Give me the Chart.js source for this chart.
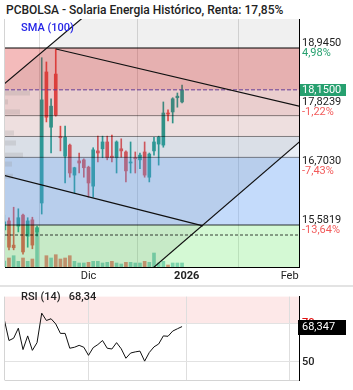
<!DOCTYPE html>
<html>
<head>
<meta charset="utf-8">
<script src="https://cdn.jsdelivr.net/npm/chart.js@4.4.1/dist/chart.umd.min.js"></script>
<style>
  html, body { margin: 0; padding: 0; background: #fff; }
  #wrap { position: relative; width: 353px; height: 390px; overflow: hidden; font-family: Roboto, sans-serif; }
  #main { position: absolute; left: 0; top: 0; }
  #rsi { position: absolute; left: 0; top: 287px; }
  #title { position: absolute; left: 0; top: 0; width: 299px; height: 19px; padding: 2px 0 0 6px; box-sizing: border-box;
           font: 500 12px Roboto; line-height: 17px; color: #222; background: #fff; white-space: nowrap; z-index: 2; }
  #sma { position: absolute; left: 21px; top: 21px; font: 500 11px Roboto; line-height: 13px; color: #2323e6; z-index: 2; }
  #sep { position: absolute; left: 0; top: 285px; width: 353px; height: 2px; background: #e3e3e3; }
  #rsiLabel { position: absolute; left: 21px; top: 290px; font: 500 11px Roboto; line-height: 13px; color: #222; z-index: 2; white-space: pre; }
</style>
</head>
<body>
<div id="wrap">
  <canvas id="main" width="353" height="285"></canvas>
  <div id="sep"></div>
  <canvas id="rsi" width="353" height="103"></canvas>
  <div id="title">PCBOLSA - Solaria Energia Histórico, Renta: 17,85%</div>
  <div id="sma">SMA (100)</div>
  <div id="rsiLabel">RSI (14)   68,34</div>
</div>
<script>
(function () {
  'use strict';

  // daily sessions, index 0 = first visible session (early Nov 2025)
  const OPEN  = [15.49, 15.66, 15.20, 15.56, 15.77, 15.37, 15.68, 15.45, 16.00, 18.49, 17.44, 18.45, 17.25, 16.89, 17.10, 16.53, 16.80, 16.82, 16.68, 16.32,
                 16.99, 17.03, 17.16, 16.89, 16.86, 17.03, 16.97, 16.76, 16.86, 16.82, 16.97, 16.49, 16.99, 17.12, 17.10, 17.71, 17.73, 18.00, 17.92];
  const HIGH  = [15.77, 15.72, 15.92, 15.89, 15.79, 15.72, 15.73, 15.56, 18.76, 18.68, 17.98, 18.93, 17.46, 17.46, 17.12, 16.68, 16.95, 16.84, 16.70, 17.05,
                 17.27, 17.27, 17.27, 17.29, 17.18, 17.22, 16.99, 17.16, 16.97, 16.95, 17.16, 16.95, 17.25, 17.27, 17.92, 17.77, 18.00, 18.09, 18.24];
  const LOW   = [15.30, 15.11, 15.11, 15.45, 15.03, 15.16, 15.13, 15.37, 15.79, 17.54, 16.95, 17.65, 16.99, 16.38, 16.49, 16.19, 16.57, 16.49, 16.11, 16.11,
                 16.78, 16.86, 16.82, 16.78, 16.57, 16.87, 16.40, 16.57, 16.57, 16.65, 16.49, 16.40, 16.91, 16.72, 17.06, 17.56, 17.52, 17.82, 17.90];
  const CLOSE = [15.64, 15.16, 15.15, 15.72, 15.07, 15.66, 15.20, 15.53, 17.96, 17.63, 17.84, 17.67, 17.24, 17.25, 16.57, 16.67, 16.76, 16.67, 16.38, 17.01,
                 16.95, 17.16, 16.86, 16.86, 17.16, 16.99, 16.61, 16.78, 16.84, 16.91, 16.53, 16.93, 17.16, 17.25, 17.71, 17.69, 17.98, 18.03, 18.15];
  const VOLUME = [60, 90, 113, 57, 90, 57, 80, 390, null, 113, 90, 123, 80, 90, 113, 57, 40, 40, 47, 57,
                  57, 40, 47, 57, 40, 30, 47, 47, 40, 40, 57, 47, 140, 40, 57, 20, 40, 40, 40];
  const VOL_UP = [1, 0, 1, 1, 0, 1, 0, 1, 1, 0, 1, 0, 0, 0, 0, 1, 1, 1, 0, 1,
                  1, 1, 1, 0, 1, 1, 0, 1, 1, 1, 0, 1, 1, 1, 1, 0, 1, 1, 1];
  const RSI = [71.9, 61.1, 62.3, 67.5, 56.4, 63.5, 56.0, 60.0, 75.3, 71.5, 72.4, 69.7, 64.8, 64.8, 57.1, 57.6, 58.6, 57.6, 53.4, 57.4,
               59.0, 61.1, 57.1, 56.7, 60.0, 56.8, 51.9, 54.6, 55.2, 55.6, 50.4, 54.9, 57.8, 59.3, 63.5, 63.3, 66.0, 67.2, 68.34];

  const X_TICKS = [18, 39, 61];
  const X_TICK_LABELS = ['Dic', '2026', 'Feb'];
  const X_MIN = 0.15, X_MAX = 63;
  const PRICE_MIN = 14.784, PRICE_MAX = 19.496;
  const VOL_AXIS_MAX = 2480;
  const RSI_MIN = 40.4, RSI_MAX = 83.9;
  const RSI_TICKS = [50, 70];

  const FIB_LEVELS = [18.945, 18.151, 17.660, 17.264, 16.867, 15.582];
  const LEVEL_VALUES = [18.945, 17.8239, 16.703, 15.5819];
  const LEVEL_PCT = [4.98, -1.22, -7.43, -13.64];
  const LAST_PRICE = 18.15;
  const SUPPORT_DOTTED = 15.392;
  const RSI_LAST = 68.347;

  // trend lines: [session, price] end points
  const RISE_UPPER = [[-1, 18.188], [64, 23.06]];
  const RISE_LOWER = [[-1, 12.257], [64, 17.23]];
  const DESC_UPPER = [[11.05, 18.926], [63.5, 17.83]];
  const DESC_LOWER = [[-0.5, 16.534], [42.46, 15.565]];

  // faint volume profile at the left edge
  const PROFILE_PRICE = [18.09, 17.92, 17.73, 17.33, 17.14, 16.91, 16.74, 16.51];
  const PROFILE_VOL   = [25, 3, 15, 9, 11, 18, 7, 8];

  const UP = '#26a69a', DOWN = '#ef5350';
  const BAND_COLORS = ['rgba(220,30,30,0.30)', 'rgba(220,30,30,0.16)', 'rgba(220,30,30,0.08)',
                       'rgba(110,140,190,0.16)', 'rgba(100,160,245,0.38)', 'rgba(90,230,90,0.26)'];

  function fmtNum(v, d) { return v.toFixed(d).replace('.', ','); }
  function pts(pairs) { return pairs.map(function (p) { return { x: p[0], y: p[1] }; }); }
  function hline(v) { return [{ x: X_MIN, y: v }, { x: X_MAX, y: v }]; }

  function lineDs(data, color, width, dash, order, extra) {
    return Object.assign({
      type: 'line', data: data, borderColor: color, borderWidth: width, borderDash: dash || [],
      pointRadius: 0, fill: false, tension: 0, order: order
    }, extra || {});
  }

  const bandsPlugin = {
    id: 'bands',
    afterDatasetDraw: function (chart, args) {
      if (chart.data.datasets[args.index].id !== 'bodies') return;
      const ctx = chart.ctx, a = chart.chartArea, y = chart.scales.y;
      ctx.save();
      ctx.beginPath(); ctx.rect(a.left, a.top, a.right - a.left, a.bottom - a.top); ctx.clip();
      FIB_LEVELS.forEach(function (v, i) {
        const top = y.getPixelForValue(v);
        const bot = i + 1 < FIB_LEVELS.length ? y.getPixelForValue(FIB_LEVELS[i + 1]) : a.bottom;
        ctx.fillStyle = BAND_COLORS[i];
        ctx.fillRect(a.left, top, a.right - a.left, bot - top);
      });
      const maxVol = Math.max.apply(null, PROFILE_VOL);
      ctx.fillStyle = 'rgba(150,150,150,0.22)';
      PROFILE_PRICE.forEach(function (p, i) {
        const py = y.getPixelForValue(p);
        ctx.fillRect(a.left, py - 2.5, 25 * PROFILE_VOL[i] / maxVol, 5);
      });
      ctx.restore();
    }
  };

  const edgePlugin = {
    id: 'edge',
    afterDatasetsDraw: function (chart) {
      const ctx = chart.ctx, a = chart.chartArea;
      ctx.save();
      ctx.strokeStyle = '#d4d4d4'; ctx.lineWidth = 1;
      ctx.beginPath(); ctx.moveTo(a.left - 0.5, a.top); ctx.lineTo(a.left - 0.5, a.bottom); ctx.stroke();
      ctx.restore();
    }
  };

  const priceLabels = {
    id: 'priceLabels',
    afterDraw: function (chart) {
      const ctx = chart.ctx, a = chart.chartArea, y = chart.scales.y;
      const x = a.right + 3;
      ctx.save();
      ctx.font = '11px Roboto';
      ctx.textAlign = 'left';
      ctx.textBaseline = 'middle';
      LEVEL_VALUES.forEach(function (v, i) {
        const py = y.getPixelForValue(v);
        ctx.fillStyle = '#222';
        ctx.fillText(fmtNum(v, 4), x, py - 4.5);
        ctx.fillStyle = LEVEL_PCT[i] < 0 ? '#f25a5a' : '#27a06f';
        ctx.fillText(fmtNum(LEVEL_PCT[i], 2) + '%', x, py + 5.5);
      });
      const ly = y.getPixelForValue(LAST_PRICE);
      ctx.fillStyle = '#27a06f';
      ctx.fillRect(a.right + 1, Math.round(ly) - 6, 46, 12);
      ctx.fillStyle = '#fff';
      ctx.fillText(fmtNum(LAST_PRICE, 4), x, ly);
      ctx.restore();
    }
  };

  const sessions = OPEN.map(function (_, i) { return i; });

  const datasets = [
    lineDs(pts(RISE_UPPER), '#111', 1.2, null, 2, { fill: '+1', backgroundColor: 'rgba(0,0,0,0.06)' }),
    lineDs(pts(RISE_LOWER), '#111', 1.2, null, 2),
    lineDs(pts(DESC_UPPER), '#111', 1.2, null, 2),
    lineDs(pts(DESC_LOWER), '#111', 1.2, null, 2),
    lineDs(hline(FIB_LEVELS[0]), '#000', 1, null, 3),
    lineDs(hline(LAST_PRICE), '#6b3fa0', 1, [4, 2], 3),
    lineDs(hline(FIB_LEVELS[2]), 'rgba(0,0,0,0.45)', 1, null, 3),
    lineDs(hline(FIB_LEVELS[3]), 'rgba(0,0,0,0.45)', 1, null, 3),
    lineDs(hline(FIB_LEVELS[4]), 'rgba(0,0,0,0.45)', 1, null, 3),
    lineDs(hline(FIB_LEVELS[5]), 'rgba(0,0,0,0.8)', 1, null, 3),
    lineDs(hline(SUPPORT_DOTTED), 'rgba(0,0,0,0.75)', 1, [3, 2], 3),
    {
      id: 'bodies', type: 'bar', order: 8, grouped: false, barThickness: 3, minBarLength: 1,
      data: sessions.map(function (i) { return { x: i, y: [OPEN[i], CLOSE[i]] }; }),
      backgroundColor: sessions.map(function (i) { return CLOSE[i] >= OPEN[i] ? UP : DOWN; })
    },
    {
      type: 'bar', order: 9, grouped: false, barThickness: 1,
      data: sessions.map(function (i) { return { x: i, y: [LOW[i], HIGH[i]] }; }),
      backgroundColor: sessions.map(function (i) { return CLOSE[i] >= OPEN[i] ? UP : DOWN; })
    },
    {
      type: 'bar', order: 10, grouped: false, barThickness: 3, yAxisID: 'yv',
      data: sessions.map(function (i) { return { x: i, y: VOLUME[i] }; }),
      backgroundColor: sessions.map(function (i) { return VOL_UP[i] ? 'rgba(38,166,154,0.55)' : 'rgba(239,83,80,0.75)'; })
    }
  ];

  function xScale(showLabels) {
    return {
      type: 'linear', min: X_MIN, max: X_MAX, offset: false,
      grid: { color: '#dedede', drawTicks: false },
      border: { color: showLabels ? '#000' : '#d4d4d4' },
      afterBuildTicks: function (s) { s.ticks = X_TICKS.map(function (v) { return { value: v }; }); },
      afterFit: function (s) { s.height = showLabels ? 18 : 4; },
      ticks: {
        display: showLabels, autoSkip: false, maxRotation: 0, padding: 3, color: '#222',
        font: function (c) { return { family: 'Roboto', size: 11, weight: c.tick && c.tick.value === 39 ? 'bold' : 'normal' }; },
        callback: function (v, idx) { return X_TICK_LABELS[idx]; }
      }
    };
  }

  new Chart(document.getElementById('main'), {
    type: 'bar',
    data: { datasets: datasets },
    options: {
      responsive: false,
      animation: false,
      events: [],
      layout: { padding: { left: 5, top: 19, right: 0, bottom: 0 } },
      plugins: { legend: { display: false }, tooltip: { enabled: false } },
      scales: {
        x: xScale(true),
        y: {
          position: 'right', min: PRICE_MIN, max: PRICE_MAX,
          grid: { display: false }, ticks: { display: false },
          border: { color: '#000' },
          afterFit: function (s) { s.width = 54; }
        },
        yv: { display: false, min: 0, max: VOL_AXIS_MAX }
      }
    },
    plugins: [bandsPlugin, edgePlugin, priceLabels]
  });

  const rsiBg = {
    id: 'rsiBg',
    beforeDraw: function (chart) {
      const ctx = chart.ctx, a = chart.chartArea, y = chart.scales.y;
      ctx.save();
      ctx.fillStyle = '#fde8e8';
      ctx.fillRect(a.left, a.top, a.right - a.left, y.getPixelForValue(70) - a.top);
      ctx.restore();
    }
  };

  const rsiBox = {
    id: 'rsiBox',
    afterDraw: function (chart) {
      const ctx = chart.ctx, a = chart.chartArea, y = chart.scales.y;
      const py = y.getPixelForValue(RSI[RSI.length - 1]);
      ctx.save();
      ctx.fillStyle = '#000';
      ctx.fillRect(a.right - 1, Math.round(py) - 7, 48, 15);
      ctx.fillStyle = '#fff';
      ctx.font = '11px Roboto';
      ctx.textBaseline = 'middle';
      ctx.fillText(fmtNum(RSI_LAST, 3), a.right + 3, py + 0.5);
      ctx.restore();
    }
  };

  new Chart(document.getElementById('rsi'), {
    type: 'line',
    data: {
      datasets: [{
        data: sessions.map(function (i) { return { x: i, y: RSI[i] }; }),
        borderColor: '#111', borderWidth: 1, pointRadius: 0, tension: 0, fill: false
      }]
    },
    options: {
      responsive: false,
      animation: false,
      events: [],
      layout: { padding: { left: 5, top: 1, right: 0, bottom: 0 } },
      plugins: { legend: { display: false }, tooltip: { enabled: false } },
      scales: {
        x: xScale(false),
        y: {
          position: 'right', min: RSI_MIN, max: RSI_MAX,
          afterBuildTicks: function (s) { s.ticks = RSI_TICKS.map(function (v) { return { value: v }; }); },
          grid: { color: '#e2e2e2', drawTicks: false },
          border: { color: '#000' },
          ticks: {
            padding: 3,
            color: function (c) { return c.tick && c.tick.value === 70 ? '#e01010' : '#222'; },
            font: { family: 'Roboto', size: 11, weight: '500' },
            callback: function (v) { return String(v); }
          },
          afterFit: function (s) { s.width = 54; }
        }
      }
    },
    plugins: [rsiBg, edgePlugin, rsiBox]
  });
})();
</script>
</body>
</html>
